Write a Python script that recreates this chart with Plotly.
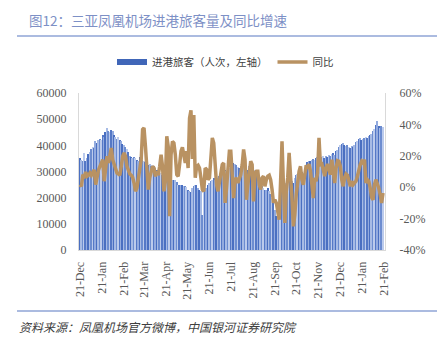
import pandas as pd
import plotly.graph_objects as go

# ---------------- data ----------------
start_date = "2020-12-21"
step = "2D"

passengers = [
    35000, 34500, 34000, 37000, 34000, 35000, 36500, 37500, 38500, 39500, 39000, 41500, 41000, 42000,
    42500, 42000, 44000, 43000, 45000, 46500, 45500, 45000, 46000, 45500, 44000, 43000, 42500, 43000,
    42000, 41500, 40500, 40000, 39500, 38500, 37500, 36000, 35500, 35000, 35500, 35000, 34500, 34000,
    35500, 35000, 34500, 34000, 33500, 33000, 32500, 33000, 32000, 32500, 32000,
    31300, 30700, 30100, 30700, 29400, 28800, 29000, 28200, 27500, 27800, 27200, 27300, 26900, 26600,
    26800, 25800, 25000, 24800, 25000, 24800, 24600, 24300, 24200, 23100, 22400, 22200, 23700, 24300,
    25000, 24700, 23700, 23100, 22400, 13500, 22400, 23100, 23700, 25000, 25600, 26250, 26900, 27500,
    26900, 26500, 27500, 28200, 28800, 30100, 30300, 30700, 30100, 30700, 31300,
    32000, 32900, 33250, 32900, 32400, 31600, 31300, 32000, 30700, 31300, 30700, 30100, 30700, 32000,
    31600, 30700, 30100, 30700, 30100, 28800, 28200, 26250, 24300, 23700, 23100, 23100, 23700, 22400,
    21400, 19900, 18000, 15400, 12900, 12200, 13500, 21150, 27500, 31300, 23700, 25600, 26900, 28200,
    27500, 26250, 25600, 27500, 28800, 29000, 29400, 30100, 30000, 29400, 30100, 30300,
    33600, 34100, 33900, 34500, 34900, 34500, 35150, 35400, 34900, 35800, 35400, 35800, 35150, 35800,
    35400, 36400, 35800, 36700, 37100, 36400, 37700, 38300, 39200, 40000, 40500, 40900, 40000, 39600,
    40000, 39200, 39000, 39600, 39200, 40250, 41300, 41500, 42550, 42800, 42200, 42550, 42800, 43050,
    42800, 43450, 43800, 44300, 45350, 46400, 47650, 49200, 47300, 46600, 47300, 46900,
]

yoy_pct = [
    1.6, 0.6, 8, 7, 9.7, 7, 7.6, 9, 7.6, 10, 11, 1.6, 8, 11, 13.3, 15.4, 17.5, 3.8, 11, 19.7, 15.4,
    20.7, 25, 17.5, 14.4, 11, 9, 8.4, 7.6, 13.3, 19.7, 21.8, 19.7, 13.3, 10, 8.4, 7.6, 6.3, 2.7, -2.6,
    -0.5, 5.9, 12.2, 17.5, 36.7, 37.7, 26, 7, -1.5, 5.9, 11, 13.3, 12.2,
    6.9, 10.1, 7.6, 13.3, 20.7, 13.3, -2.6, 3.8, 32.4, 26, -18.5, 20.7, 29.2, 28.2, 20.7, 8, 7, 14.4,
    22.9, 25.4, 20.7, 15.4, 22.9, 12.2, 44, 49, 18, 46, 6, 13.3, 14, 12.2, 5.9, -1.5, -2.6, 12.2,
    11.2, 4.8, 5.9, 20.7, 31.4, 28.2, 16.5, 1.6, -2.6, 3.8, 10.1, 14.4, 15.4, -10, -0.5, 14.4, 22.9,
    22.9, 1.6, -6.9, 4.8, 5.9, 2.7, 4.8, 8, 14.4, 24, 17.5, -8, 1.6, 9, 16.5, 14.4, -9, 9, 10.1, 10.1,
    1.6, -1.5, 5.9, 7, 0.6, 4.8, 7, 7.6, 4.8, -1.5, -10, -8, -10, -15.4, -20.7, 3.8, 29.2, 1.6, -22.8,
    -2.6, 5.9, 21.8, 10.1, -6.9, -24.9, -17.5, -4.7, 4.8, 10.1, 13.3, 4.8, 1.6, 8, 14,
    11.8, 14.8, 10.1, -0.5, -6.9, 5.9, 3.8, 9, 31.4, 14.4, 14.8, 11.2, 7, 12.2, 14.8, 11.2, 8, 17.5,
    11.2, 2.7, 12.2, 16.9, 16.5, 13.3, 4.8, 0.6, 5.9, 8.4, 7.6, 2.7, 0.6, 3.8, 1.6, 2.7, 3.8, 7, 11.2,
    14.4, 16.5, 15.4, 17.5, 2.7, 4.8, 3.8, -0.5, -6.5, -8, 1.6, 4.8, 2.7, -0.5, -4.7, -10, -3.7,
]

dates = pd.date_range(start_date, periods=len(passengers), freq=step)

left_ticks = [0, 10000, 20000, 30000, 40000, 50000, 60000]
right_ticks = [-40, -20, 0, 20, 40, 60]
right_tick_text = ["-40%", "-20%", "0%", "20%", "40%", "60%"]

title_text = "图12：三亚凤凰机场进港旅客量及同比增速"
bar_name = "进港旅客（人次，左轴）"
line_name = "同比"
source_text = "资料来源：凤凰机场官方微博，中国银河证券研究院"

# ---------------- layout helpers ----------------
W, H = 447, 340
L, R, T, B = 79, 385, 93, 250


def px(x):
    return (x - L) / (R - L)


def py(y):
    return (B - y) / (B - T)


# stripe texture of the thin bars (style only)
STRIPES = ["#4a6fc1", "#a7bbe5", "#6d8dd0", "#bccbec", "#5578c6", "#93abdf"]
bar_colors = [STRIPES[i % len(STRIPES)] for i in range(len(passengers))]
LINE_COLOR = "#b99262"
TICK_FONT = dict(family="Liberation Serif", size=12, color="#595959")
CJK = "Noto Sans CJK SC"

fig = go.Figure()
fig.add_bar(
    x=dates, y=passengers, name=bar_name, showlegend=False,
    marker=dict(color=bar_colors, line=dict(width=0)),
)
# legend-only entry for the bars (wide flat swatch)
fig.add_scatter(
    x=[None], y=[None], mode="lines", name=bar_name,
    line=dict(color="#4066b8", width=6),
)
fig.add_scatter(
    x=dates, y=yoy_pct, yaxis="y2", mode="lines", name=line_name,
    line=dict(color=LINE_COLOR, width=3.5),
)

fig.update_layout(
    width=W, height=H,
    margin=dict(l=L, r=W - R, t=T, b=H - B),
    paper_bgcolor="white", plot_bgcolor="white",
    bargap=0.0,
    font=dict(family=CJK, color="#404040"),
    showlegend=True,
    legend=dict(
        orientation="h", x=px(112), xanchor="left", y=py(62), yanchor="middle",
        font=dict(family=CJK, size=10.5, color="#404040"),
        itemwidth=30, tracegroupgap=0, bgcolor="rgba(0,0,0,0)",
    ),
    xaxis=dict(
        type="date",
        range=["2020-12-19 14:00", "2022-02-22 19:00"],
        tick0="2020-12-21", dtick="M1", tickformat="%d-%b",
        tickangle=-90, tickfont=TICK_FONT, ticks="",
        showgrid=False, zeroline=False,
        showline=True, linecolor="#d9d9d9", linewidth=1,
        ticklabelstandoff=6,
    ),
    yaxis=dict(
        range=[0, 60000], tickvals=left_ticks, tickformat="d",
        tickfont=TICK_FONT, ticks="", showgrid=False, zeroline=False,
        showline=True, linecolor="#d9d9d9", linewidth=1,
        ticklabelstandoff=9,
    ),
    yaxis2=dict(
        range=[-40, 60], tickvals=right_ticks, ticktext=right_tick_text,
        overlaying="y", side="right",
        tickfont=TICK_FONT, ticks="", showgrid=False, zeroline=False,
        showline=True, linecolor="#d9d9d9", linewidth=1,
        ticklabelstandoff=11,
    ),
    shapes=[
        dict(type="line", xref="paper", yref="paper",
             x0=px(17), x1=px(437), y0=py(36), y1=py(36),
             line=dict(color="#8fa4d6", width=1.5)),
        dict(type="line", xref="paper", yref="paper",
             x0=px(17), x1=px(437), y0=py(311), y1=py(311),
             line=dict(color="#8fa4d6", width=1.5)),
    ],
    annotations=[
        dict(text=title_text, xref="paper", yref="paper", x=px(27), y=py(20),
             xanchor="left", yanchor="middle", showarrow=False,
             font=dict(family=CJK, size=13.5, color="#7d90c6")),
        dict(text=source_text, xref="paper", yref="paper", x=px(17), y=py(326),
             xanchor="left", yanchor="middle", showarrow=False,
             font=dict(family=CJK, size=12, color="#404040", style="italic")),
    ],
)

fig.write_html("out.html")
